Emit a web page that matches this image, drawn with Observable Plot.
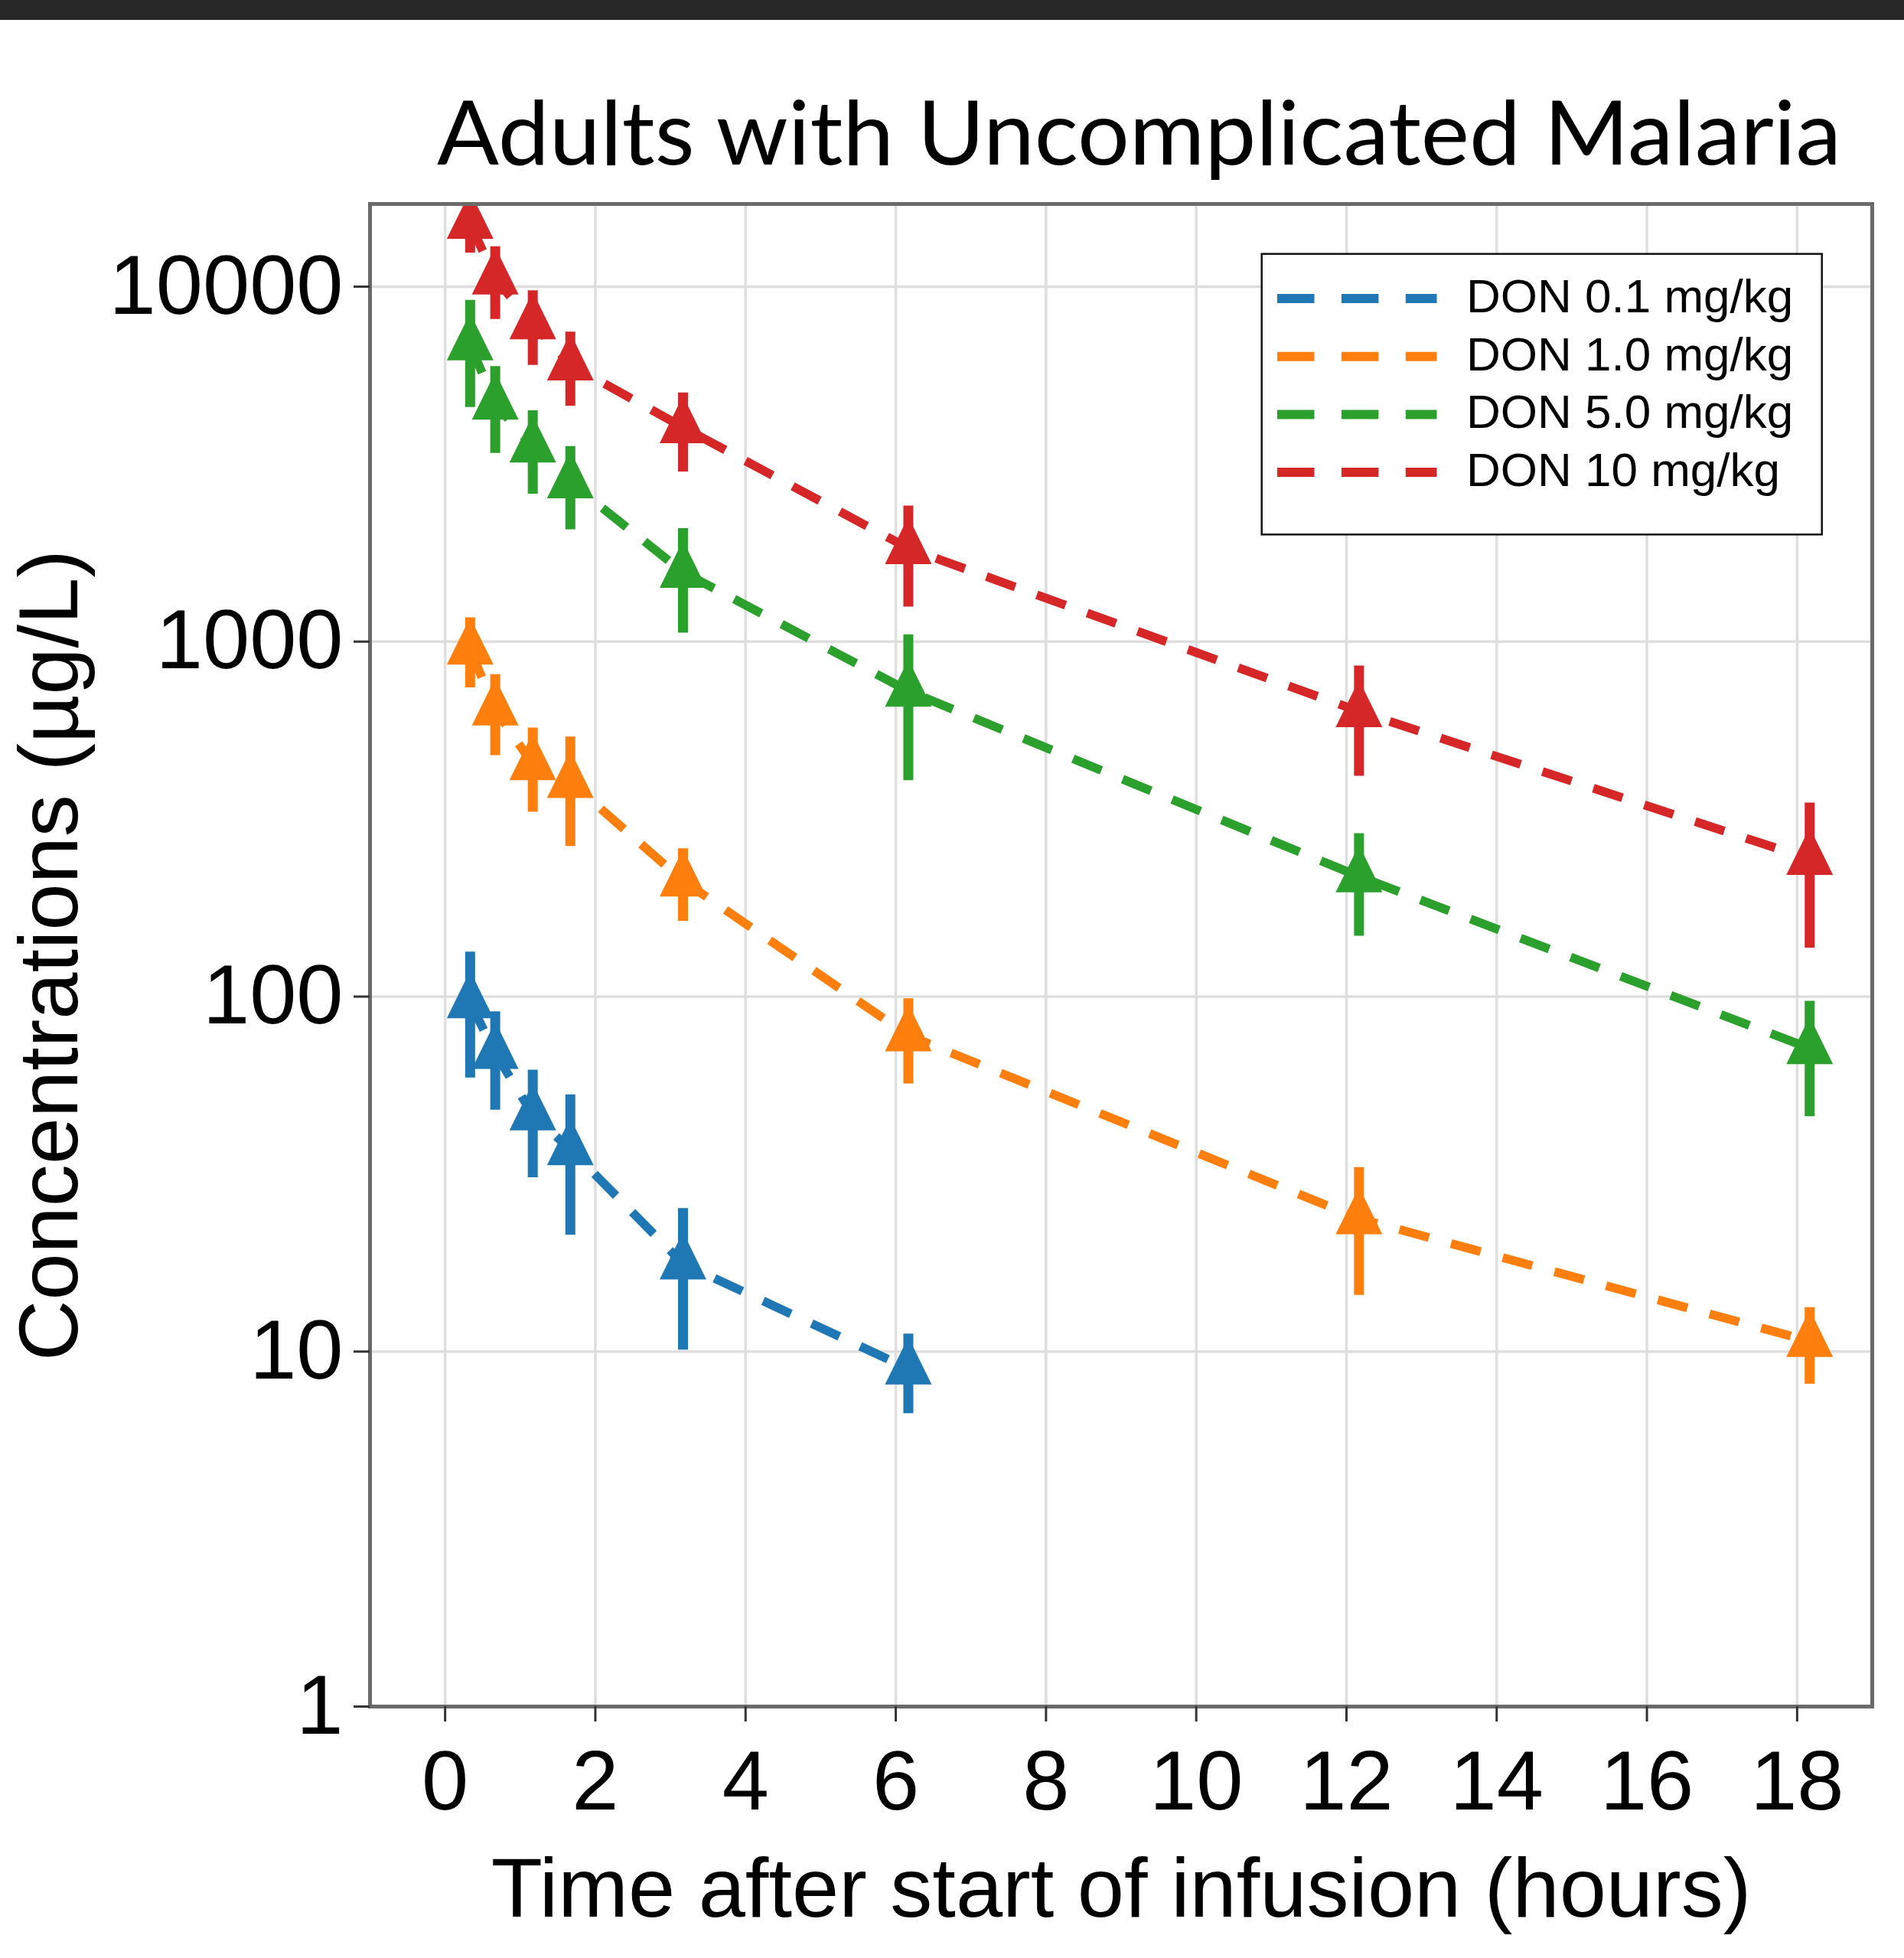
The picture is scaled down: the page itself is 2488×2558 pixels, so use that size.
<!DOCTYPE html>
<html>
<head>
<meta charset="utf-8">
<script src="https://cdn.jsdelivr.net/npm/d3@7"></script>
<script src="https://cdn.jsdelivr.net/npm/@observablehq/plot@0.6"></script>
<style>
  html, body { margin: 0; padding: 0; background: #ffffff; }
  #bar { width: 2488px; height: 26px; background: #282828; }
  #titlebox { display: block; }
  #chart svg { display: block; }
</style>
</head>
<body>
<div id="bar"></div>
<svg id="titlebox" width="2488" height="214" xmlns="http://www.w3.org/2000/svg">
  <text x="1488.5" y="189" text-anchor="middle" font-family="Lato, 'Open Sans', sans-serif" font-size="117" fill="#000" textLength="1835" lengthAdjust="spacingAndGlyphs">Adults with Uncomplicated Malaria</text>
</svg>
<div id="chart"></div>
<script>
// ---- data ----
const times = [0.333, 0.667, 1.167, 1.667, 3.167, 6.167, 12.167, 18.167];
const series = ["DON 0.1 mg/kg", "DON 1.0 mg/kg", "DON 5.0 mg/kg", "DON 10 mg/kg"];
const colors = ["#1f77b4", "#ff7f0e", "#2ca02c", "#d62728"];

const don01Mean = [96.3, 69.3, 46.5, 37.1, 17.7, 8.95];
const don01SD   = [37.3, 21.4, 15.6, 15.8, 7.6, 2.26];
const don1Mean  = [954, 643, 451, 402, 212, 77.7, 23.7, 10.7];
const don1SD    = [213, 165, 120, 137, 49, 20.9, 9.3, 2.6];
const don5Mean  = [6865, 4676, 3539, 2807, 1570, 726, 218, 71.5];
const don5SD    = [2294, 1283, 935, 741, 513, 320, 70, 25.6];
const don10Mean = [15100, 10528, 7873, 6030, 4015, 1832, 636, 244];
const don10SD   = [2660, 2438, 1868, 1420, 1007, 580, 218, 107];

const xTicks = [0, 2, 4, 6, 8, 10, 12, 14, 16, 18];
const yTicks = [1, 10, 100, 1000, 10000];
const xLabel = "Time after start of infusion (hours)";
const yLabel = "Concentrations (µg/L)";

const means = [don01Mean, don1Mean, don5Mean, don10Mean];
const sds = [don01SD, don1SD, don5SD, don10SD];
const rows = series.flatMap((s, i) =>
  means[i].map((m, j) => ({series: s, t: times[j], m, sd: sds[i][j]}))
);

// matplotlib-like "^" marker, positioned at its centroid
const tri = {
  draw(ctx, size) {
    const r = Math.sqrt(size / Math.PI);
    const h = 2.03 * r;
    ctx.moveTo(0, -2 * h / 3);
    ctx.lineTo(r, h / 3);
    ctx.lineTo(-r, h / 3);
    ctx.closePath();
  }
};

const font = "'Liberation Sans', Arial, Helvetica, sans-serif";

const chart = Plot.plot({
  width: 2488,
  height: 2318,
  marginTop: 26,
  marginBottom: 329,
  marginLeft: 483,
  marginRight: 42,
  style: {fontFamily: font, background: "#ffffff", color: "#000", overflow: "visible"},
  x: {domain: [-1, 19]},
  y: {type: "log", domain: [1, 17093]},
  color: {domain: series, range: colors},
  marks: [
    Plot.gridX(xTicks, {stroke: "#dedede", strokeWidth: 3.5, strokeOpacity: 1}),
    Plot.gridY(yTicks, {stroke: "#dedede", strokeWidth: 3.5, strokeOpacity: 1}),
    Plot.line(rows, {x: "t", y: "m", z: "series", stroke: "series", strokeWidth: 11.5,
      strokeDasharray: "40,30", strokeLinecap: "butt", strokeLinejoin: "miter", clip: true}),
    Plot.ruleX(rows, {x: "t", y1: d => d.m - d.sd, y2: d => d.m + d.sd, stroke: "series",
      strokeWidth: 13, strokeLinecap: "butt", clip: true}),
    Plot.dot(rows, {x: "t", y: "m", fill: "series", r: 30.5, symbol: tri, clip: true}),
    Plot.frame({stroke: "#6a6a6a", strokeWidth: 5}),
    Plot.axisX(xTicks, {tickSize: 20, tickPadding: 36, fontSize: 110, label: null,
      stroke: "#333", strokeWidth: 3, fill: "#000"}),
    Plot.axisY(yTicks, {tickSize: 21, tickPadding: 14, fontSize: 110, label: null,
      tickFormat: d => String(d), stroke: "#333", strokeWidth: 3, fill: "#000"}),
    Plot.text([xLabel], {text: d => d, frameAnchor: "bottom", dy: 274, lineAnchor: "bottom",
      textAnchor: "middle", fontSize: 110, fill: "#000"}),
    Plot.text([yLabel], {text: d => d, frameAnchor: "left", dx: -383, rotate: -90,
      lineAnchor: "bottom", textAnchor: "middle", fontSize: 110, fill: "#000"})
  ]
});

document.getElementById("chart").appendChild(chart);

// ---- legend (inside the plot's SVG, upper right) ----
const svg = d3.select(chart);
const lg = svg.append("g").attr("class", "legend")
  .attr("font-family", font).attr("text-anchor", "start");
lg.append("rect")
  .attr("x", 1648.7).attr("y", 91.7).attr("width", 732).attr("height", 366.6)
  .attr("fill", "#ffffff").attr("stroke", "#111").attr("stroke-width", 2.5);
series.forEach((s, i) => {
  const ly = 150 + i * 75.7;
  lg.append("line")
    .attr("x1", 1669).attr("x2", 1877.5).attr("y1", ly).attr("y2", ly)
    .attr("stroke", colors[i]).attr("stroke-width", 12)
    .attr("stroke-dasharray", "48.5,35.4").attr("stroke-linecap", "butt");
  lg.append("text")
    .attr("x", 1916).attr("y", 168 + i * 75.7)
    .attr("font-size", 62).attr("fill", "#000").attr("text-anchor", "start")
    .text(s);
});
</script>
</body>
</html>
